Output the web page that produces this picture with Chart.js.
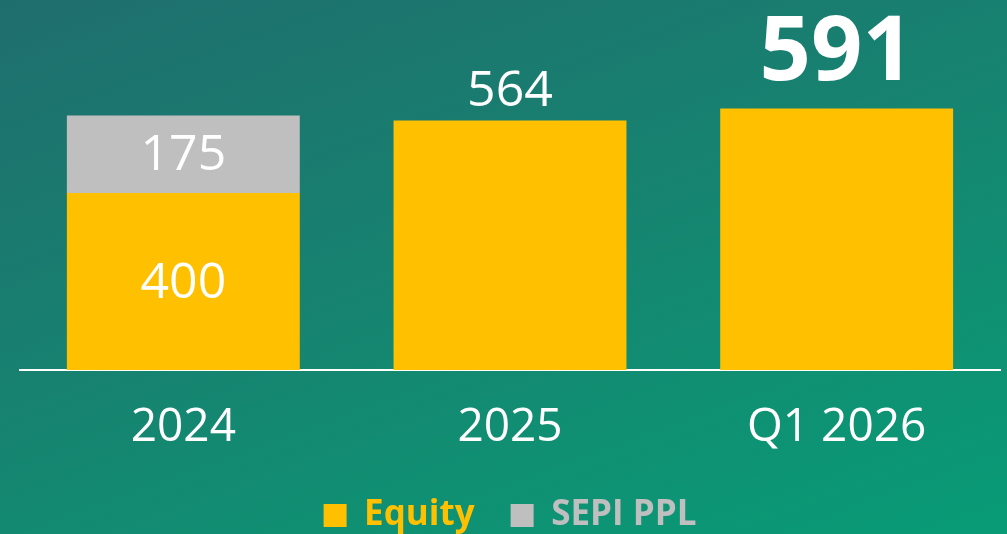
<!DOCTYPE html>
<html>
<head>
<meta charset="utf-8">
<script src="https://cdn.jsdelivr.net/npm/chart.js@4"></script>
<style>
  html, body { margin: 0; padding: 0; }
  body {
    width: 1007px; height: 534px; overflow: hidden;
    background: linear-gradient(160deg, #1f6e6e 0%, #178270 45%, #0f9173 75%, #089b76 100%);
  }
  #wrap { position: relative; width: 1007px; height: 534px; }
</style>
</head>
<body>
<div id="wrap"><canvas id="chart"></canvas></div>
<script>
// dados do gráfico
const categories = ['2024', '2025', 'Q1 2026'];
const equityValues = [400, 564, 591];
const sepiValues = [175, null, null];
const seriesNames = ['Equity', 'SEPI PPL'];

const yellow = '#FFC000';
const grey = '#BFBFBF';
const fontFamily = "'Open Sans', 'Noto Sans', sans-serif";

// rótulos de valor desenhados sobre as barras
const valueLabels = {
  id: 'valueLabels',
  afterDatasetsDraw(chart) {
    const ctx = chart.ctx;
    ctx.save();
    ctx.fillStyle = '#fff';
    ctx.textAlign = 'center';
    const last = categories.length - 1;
    chart.data.datasets.forEach((ds, di) => {
      const meta = chart.getDatasetMeta(di);
      meta.data.forEach((bar, i) => {
        const v = ds.data[i];
        if (v == null) return;
        const stacked = sepiValues[i] != null;
        if (stacked) {
          // valor dentro do segmento
          ctx.font = '400 50px ' + fontFamily;
          ctx.textBaseline = 'middle';
          ctx.fillText(String(v), bar.x, (bar.y + bar.base) / 2 + 2);
        } else if (i === last) {
          ctx.font = '700 90px ' + fontFamily;
          ctx.textBaseline = 'alphabetic';
          ctx.fillText(String(v), bar.x, bar.y - 28);
        } else {
          ctx.font = '400 50px ' + fontFamily;
          ctx.textBaseline = 'alphabetic';
          ctx.fillText(String(v), bar.x, bar.y - 14);
        }
      });
    });
    ctx.restore();
  }
};

const ctx = document.getElementById('chart').getContext('2d');
const chart = new Chart(ctx, {
  type: 'bar',
  data: {
    labels: categories,
    datasets: [
      { label: seriesNames[0], data: equityValues, backgroundColor: yellow },
      { label: seriesNames[1], data: sepiValues, backgroundColor: grey }
    ]
  },
  options: {
    responsive: true,
    maintainAspectRatio: false,
    animation: false,
    layout: { padding: { left: 20, right: 7, top: 0, bottom: -9 } },
    datasets: { bar: { barPercentage: 0.713, categoryPercentage: 1 } },
    scales: {
      x: {
        stacked: true,
        grid: { display: false },
        border: { display: true, color: '#ffffff', width: 2 },
        afterFit(scale) { scale.height = 92; },
        ticks: {
          color: '#ffffff',
          padding: 22,
          font: { family: fontFamily, size: 46 }
        }
      },
      y: {
        stacked: true,
        display: false,
        min: 0,
        max: 836
      }
    },
    plugins: {
      tooltip: { enabled: false },
      legend: {
        position: 'bottom',
        labels: {
          boxWidth: 23,
          boxHeight: 23,
          padding: 36,
          font: { family: fontFamily, size: 35, weight: '700' },
          generateLabels(chart) {
            return chart.data.datasets.map((ds, i) => ({
              text: ds.label,
              fillStyle: ds.backgroundColor,
              strokeStyle: ds.backgroundColor,
              lineWidth: 0,
              fontColor: ds.backgroundColor,
              datasetIndex: i,
              hidden: false
            }));
          }
        }
      }
    }
  },
  plugins: [valueLabels]
});
</script>
</body>
</html>
